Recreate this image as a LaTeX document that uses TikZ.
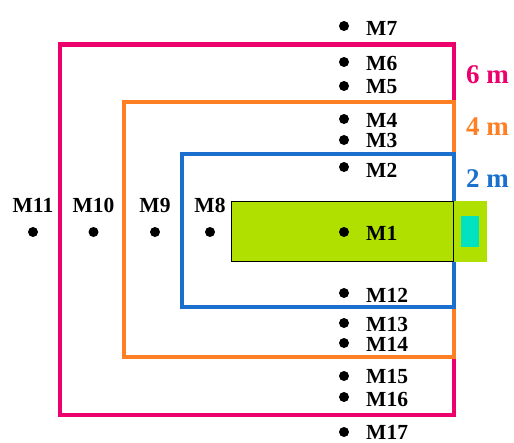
\documentclass[tikz,border=0pt]{standalone}
\usepackage{fontspec}
\setmainfont{Liberation Serif}
\definecolor{zpink}{RGB}{236,0,108}
\definecolor{zorange}{RGB}{255,128,36}
\definecolor{zblue}{RGB}{26,112,204}
\definecolor{zgreen}{RGB}{176,224,0}
\definecolor{zcyan}{RGB}{0,226,192}
\tikzset{
  zone/.style={line width=4.6pt, line cap=rect},
  mdot/.style={circle, fill=black, inner sep=0pt, minimum size=10pt},
  mlab/.style={anchor=base west, inner sep=0pt, font=\fontsize{21.5}{21.5}\selectfont\bfseries},
  ulab/.style={anchor=base, inner sep=0pt, font=\fontsize{21.5}{21.5}\selectfont\bfseries},
  dlab/.style={anchor=base west, inner sep=0pt, font=\fontsize{27}{27}\selectfont\bfseries},
}
\begin{document}
\begin{tikzpicture}[x=1pt,y=-1pt]
\useasboundingbox (0,0) rectangle (514,442);
% zones
\draw[zone, zpink] (60,44.5) rectangle (454,415);
\draw[zone, zorange] (124,102) rectangle (454,357);
\draw[zone, zblue] (182,154) rectangle (454,307);
% device
\node[fill=zgreen, inner sep=0pt, minimum width=34pt, minimum height=61pt] (ext) at (470,231.5) {};
\node[fill=zgreen, draw=black, line width=0.8pt, inner sep=0pt, minimum width=222pt, minimum height=60pt] (box) at (342,231) {};
\node[fill=zcyan, inner sep=0pt, minimum width=18pt, minimum height=31pt] (cy) at (470,231.5) {};
% distance labels
\node[dlab, text=zpink] (d6) at (466,83) {6 m};
\node[dlab, text=zorange] (d4) at (466,135) {4 m};
\node[dlab, text=zblue] (d2) at (466,187) {2 m};
% column points
\foreach \n/\y/\b in {7/26/35, 6/62/70, 5/86/93, 4/119/127, 3/140/147, 2/167/177, 1/232/240, 12/293/302, 13/323/331, 14/343/351, 15/376/383, 16/397/406, 17/432/439.5}{
  \node[mdot] (p\n) at (344,\y) {};
  \node[mlab] (l\n) at (366,\b) {M\n};
}
% row points
\foreach \n/\x in {11/33, 10/93.5, 9/155, 8/210}{
  \node[mdot] (p\n) at (\x,232) {};
  \node[ulab] (l\n) at (\x,212) {M\n};
}
\end{tikzpicture}
\end{document}
